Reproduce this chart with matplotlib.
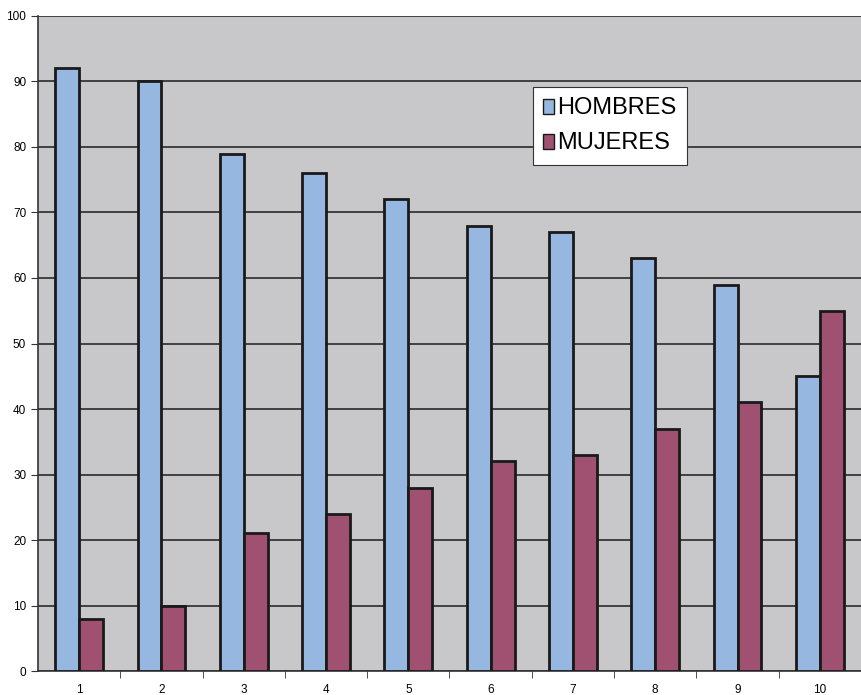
import matplotlib
matplotlib.use("Agg")
import matplotlib.pyplot as plt
import numpy as np

plt.rcParams['font.family'] = ['Liberation Sans', 'DejaVu Sans']

categories = ['1', '2', '3', '4', '5', '6', '7', '8', '9', '10']
hombres = [92, 90, 79, 76, 72, 68, 67, 63, 59, 45]
mujeres = [8, 10, 21, 24, 28, 32, 33, 37, 41, 55]

fig = plt.figure(figsize=(8.61, 6.95), dpi=100, facecolor='white')
ax = fig.add_axes([0.0441, 0.0345, 0.9559, 0.9425])
ax.set_facecolor('#C8C8CA')

x = np.arange(len(categories))
w = 0.29
ax.bar(x - w / 2, hombres, w, color='#95B7E0', edgecolor='#1A1A1A', linewidth=2, label='HOMBRES', zorder=3)
ax.bar(x + w / 2, mujeres, w, color='#A05070', edgecolor='#1A1A1A', linewidth=2, label='MUJERES', zorder=3)

ax.set_xlim(-0.5, len(categories) - 0.5)
ax.set_ylim(0, 100)
ax.set_yticks(np.arange(0, 101, 10))
ax.yaxis.grid(True, color='#2A2A2A', linewidth=1.2, zorder=1)
ax.set_axisbelow(True)

ax.set_xticks(x)
ax.set_xticklabels(categories)
ax.set_xticks(x[:-1] + 0.5, minor=True)
ax.tick_params(axis='x', which='major', length=0, labelsize=8.5, pad=9)
ax.tick_params(axis='x', which='minor', length=5, direction='out', color='#333333')
ax.tick_params(axis='y', length=5, direction='out', labelsize=8.5, color='#333333')

for side in ['top', 'right']:
    ax.spines[side].set_visible(False)
ax.spines['left'].set_color('#333333')
ax.spines['bottom'].set_color('#333333')
ax.spines['left'].set_linewidth(1.2)
ax.spines['bottom'].set_linewidth(1.2)

leg = ax.legend(loc='upper left', bbox_to_anchor=(0.601, 0.892), borderaxespad=0, fontsize=17,
                frameon=True, fancybox=False, edgecolor='#333333', framealpha=1, handlelength=0.45,
                handleheight=0.6, handletextpad=0.15, borderpad=0.45, labelspacing=0.55)
leg.get_frame().set_linewidth(0.8)
for h in leg.legend_handles:
    h.set_linewidth(1)

fig.savefig('out.png', dpi=100, facecolor='white')
